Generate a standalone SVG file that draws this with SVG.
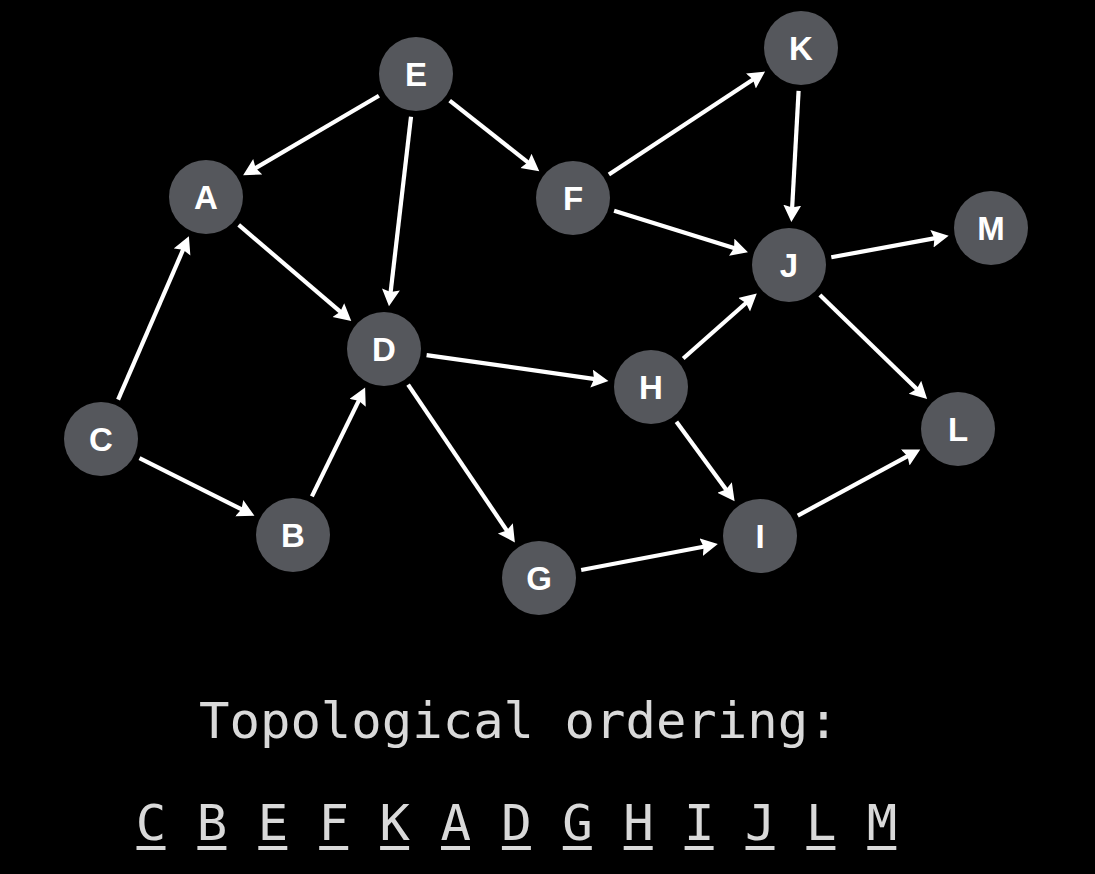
<svg xmlns="http://www.w3.org/2000/svg" width="1095" height="874" viewBox="0 0 1095 874">
<style>
.node circle{fill:#55575c}
.node text{fill:#ffffff;font-family:"Liberation Sans",Arial,sans-serif;font-weight:bold;font-size:33px;text-anchor:middle}
.edges line{stroke:#ffffff;stroke-width:4.2;marker-end:url(#arr)}
.mono{fill:#d9d9d9;font-family:"DejaVu Sans Mono",monospace;font-size:50.6px}
.ul{fill:#d9d9d9}
</style>
<defs>
<marker id="arr" markerUnits="userSpaceOnUse" markerWidth="20" markerHeight="20" refX="9" refY="9" orient="auto">
<path d="M0,0 L17,9 L0,18 L2.5,9 Z" fill="#ffffff"/>
</marker>
</defs>
<rect width="1095" height="874" fill="#000000"/>
<g class="edges" id="edges">
<line x1="378.9" y1="95.7" x2="250.0" y2="171.3"/>
<line x1="411.0" y1="116.7" x2="389.9" y2="298.4"/>
<line x1="449.7" y1="100.6" x2="533.0" y2="166.4"/>
<line x1="608.9" y1="174.4" x2="758.4" y2="76.0"/>
<line x1="798.6" y1="90.9" x2="791.8" y2="214.1"/>
<line x1="614.1" y1="210.7" x2="740.3" y2="249.9"/>
<line x1="831.3" y1="257.3" x2="940.8" y2="237.1"/>
<line x1="238.7" y1="224.9" x2="345.2" y2="315.9"/>
<line x1="118.1" y1="399.6" x2="185.7" y2="243.7"/>
<line x1="139.5" y1="458.2" x2="247.3" y2="512.2"/>
<line x1="311.9" y1="496.4" x2="361.6" y2="394.8"/>
<line x1="426.6" y1="355.1" x2="600.5" y2="379.8"/>
<line x1="408.1" y1="384.6" x2="510.4" y2="535.8"/>
<line x1="683.2" y1="358.5" x2="750.8" y2="298.8"/>
<line x1="819.9" y1="294.9" x2="921.4" y2="393.5"/>
<line x1="676.4" y1="421.7" x2="729.9" y2="494.8"/>
<line x1="797.8" y1="515.6" x2="913.2" y2="453.2"/>
<line x1="581.2" y1="570.0" x2="710.0" y2="545.5"/>
</g>
<g class="node" id="node-E"><circle cx="416" cy="74" r="37"/><text x="416" y="86">E</text></g>
<g class="node" id="node-A"><circle cx="206" cy="197" r="37"/><text x="206" y="209">A</text></g>
<g class="node" id="node-F"><circle cx="573" cy="198" r="37"/><text x="573" y="210">F</text></g>
<g class="node" id="node-K"><circle cx="801" cy="48" r="37"/><text x="801" y="60">K</text></g>
<g class="node" id="node-J"><circle cx="789" cy="265" r="37"/><text x="789" y="277">J</text></g>
<g class="node" id="node-M"><circle cx="991" cy="228" r="37"/><text x="991" y="240">M</text></g>
<g class="node" id="node-D"><circle cx="384" cy="349" r="37"/><text x="384" y="361">D</text></g>
<g class="node" id="node-H"><circle cx="651" cy="387" r="37"/><text x="651" y="399">H</text></g>
<g class="node" id="node-C"><circle cx="101" cy="439" r="37"/><text x="101" y="451">C</text></g>
<g class="node" id="node-L"><circle cx="958" cy="429" r="37"/><text x="958" y="441">L</text></g>
<g class="node" id="node-B"><circle cx="293" cy="535" r="37"/><text x="293" y="547">B</text></g>
<g class="node" id="node-I"><circle cx="760" cy="536" r="37"/><text x="760" y="548">I</text></g>
<g class="node" id="node-G"><circle cx="539" cy="578" r="37"/><text x="539" y="590">G</text></g>
<g id="caption">
<text class="mono" x="199" y="738" xml:space="preserve">Topological ordering:</text>
<text class="mono" x="135.8" y="840" xml:space="preserve">C B E F K A D G H I J L M</text>
<g class="ul">
<rect x="136.5" y="846" width="29" height="4"/>
<rect x="197.4" y="846" width="29" height="4"/>
<rect x="258.3" y="846" width="29" height="4"/>
<rect x="319.2" y="846" width="29" height="4"/>
<rect x="380.1" y="846" width="29" height="4"/>
<rect x="441.0" y="846" width="29" height="4"/>
<rect x="501.9" y="846" width="29" height="4"/>
<rect x="562.8" y="846" width="29" height="4"/>
<rect x="623.7" y="846" width="29" height="4"/>
<rect x="684.6" y="846" width="29" height="4"/>
<rect x="745.5" y="846" width="29" height="4"/>
<rect x="806.4" y="846" width="29" height="4"/>
<rect x="867.3" y="846" width="29" height="4"/>
</g>
</g>
</svg>
